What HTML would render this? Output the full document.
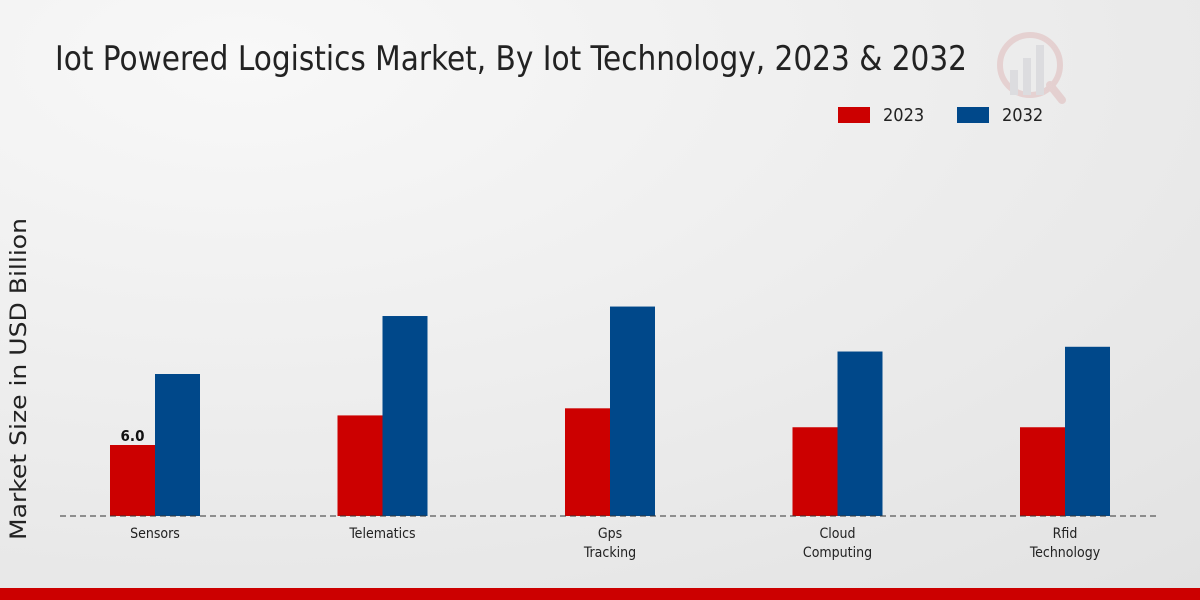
<!DOCTYPE html>
<html><head><meta charset="utf-8"><style>
body{margin:0;width:1200px;height:600px;overflow:hidden;font-family:"DejaVu Sans Condensed","DejaVu Sans","Liberation Sans",sans-serif}
svg{display:block}
</style></head><body>
<svg id="chart" width="1200" height="600">
<defs><radialGradient id="bg" cx="0.2" cy="0.1" r="1.2"><stop offset="0" stop-color="#f8f8f8"/><stop offset="1" stop-color="#e2e2e2"/></radialGradient></defs>
<rect width="1200" height="600" fill="url(#bg)"/>
<text x="55" y="70" font-size="34" fill="#222" textLength="912" lengthAdjust="spacingAndGlyphs">Iot Powered Logistics Market, By Iot Technology, 2023 &amp; 2032</text>
<g opacity="0.35">
<circle cx="1030" cy="65" r="30" fill="none" stroke="#d9a0a0" stroke-width="6"/>
<rect x="1010" y="70" width="8" height="25" fill="#c0c0c8"/><rect x="1023" y="58" width="8" height="37" fill="#c0c0c8"/><rect x="1036" y="45" width="8" height="50" fill="#c0c0c8"/>
<line x1="1050" y1="85" x2="1062" y2="100" stroke="#d9a0a0" stroke-width="8" stroke-linecap="round"/>
</g>
<g>
<rect x="838" y="107" width="32" height="16" fill="#cc0000"/>
<text x="883" y="121" font-size="18" fill="#222">2023</text>
<rect x="957" y="107" width="32" height="16" fill="#00488a"/>
<text x="1002" y="121" font-size="18" fill="#222">2032</text>
</g>
<text transform="translate(26,379) rotate(-90)" text-anchor="middle" font-size="22" fill="#222" textLength="322" lengthAdjust="spacingAndGlyphs" style="font-family:'DejaVu Sans',sans-serif">Market Size in USD Billion</text>
<g id="bars"></g>
<line x1="60" y1="516" x2="1160" y2="516" stroke="#333" stroke-dasharray="6,4"/>
<rect x="0" y="588" width="1200" height="12" fill="#cc0000"/>
</svg>
<script>
const categories=[["Sensors"],["Telematics"],["Gps","Tracking"],["Cloud","Computing"],["Rfid","Technology"]];
const values2023=[6.0,8.5,9.1,7.5,7.5];
const values2032=[12.0,16.9,17.7,13.9,14.3];
const ns="http://www.w3.org/2000/svg";
const baseY=516, pxPerUnit=71/6.0, bw=45;
const xc=i=>155+i*227.5;
const y=v=>baseY-v*pxPerUnit;
const g=document.getElementById('bars');
function mk(t,a){const e=document.createElementNS(ns,t);for(const k in a)e.setAttribute(k,a[k]);return e;}
categories.forEach((c,i)=>{
  const r=mk('rect',{x:xc(i)-bw,y:y(values2023[i]),width:bw,height:baseY-y(values2023[i]),fill:'#cc0000'});
  
  
  g.appendChild(r);
  const b=mk('rect',{x:xc(i),y:y(values2032[i]),width:bw,height:baseY-y(values2032[i]),fill:'#00488a'});
  
  
  g.appendChild(b);
  c.forEach((line,j)=>{
    const t=mk('text',{x:xc(i),y:538+j*19,'text-anchor':'middle','font-size':14,fill:'#222'});
    t.textContent=line;
    
    
    g.appendChild(t);
  });
});
const lbl=mk('text',{x:xc(0)-bw/2,y:y(values2023[0])-4,'text-anchor':'middle','font-size':15,'font-weight':'bold',fill:'#111'});
lbl.textContent=values2023[0].toFixed(1);


g.appendChild(lbl);
</script>
</body></html>
